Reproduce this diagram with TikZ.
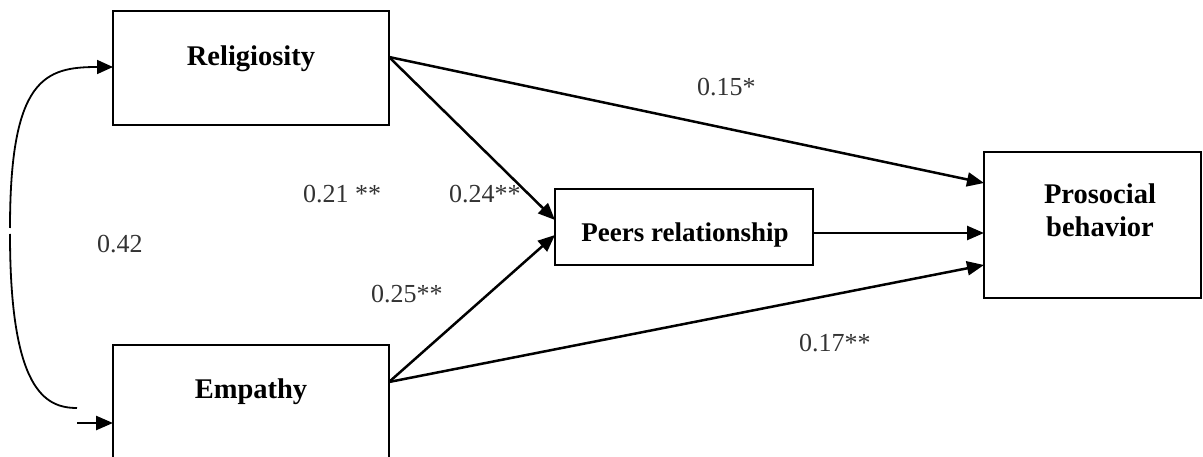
\documentclass[tikz,border=0pt]{standalone}
\usepackage{fontspec}
\setmainfont{Liberation Serif}
\usetikzlibrary{arrows.meta,calc}
\begin{document}
\begin{tikzpicture}[x=1pt,y=-1pt,
  box/.style={draw, line width=2pt, inner sep=0pt, outer sep=0pt},
  boxtext/.style={font=\fontsize{28.5}{33}\selectfont\bfseries, inner sep=0pt, anchor=base, align=center},
  num/.style={font=\fontsize{26}{28}\selectfont, text=black!80, inner sep=0pt, anchor=base west},
  arr/.style={line width=2.5pt, -{Triangle[length=17pt,width=14pt]}},
  curve/.style={line width=1.8pt}]
\useasboundingbox (0,0) rectangle (1203,457);
\clip (0,0) rectangle (1203,457);

% boxes
\node[box, minimum width=276pt, minimum height=114pt] (rel) at (251,68) {};
\node[box, minimum width=276pt, minimum height=125pt] (emp) at (251,407.5) {};
\node[box, minimum width=258pt, minimum height=76pt] (peer) at (684,227) {};
\node[box, minimum width=217pt, minimum height=146pt] (pro) at (1092.5,225) {};

% box texts
\node[boxtext] (reltext) at (251,66) {Religiosity};
\node[boxtext] (emptext) at (251,398) {Empathy};
\node[boxtext, font=\fontsize{27}{30}\selectfont\bfseries] (peertext) at (685,242) {Peers relationship};
\node[boxtext] (protext) at (1100,237) {Prosocial\\behavior};

% paths
\draw[arr] ($(rel.east)+(0,-11)$) -- ($(peer.west)+(0,-7)$);
\draw[arr] ($(rel.east)+(0,-11)$) -- ($(pro.west)+(0,-42)$);
\draw[arr] ($(emp.east)+(0,-25.5)$) -- ($(peer.west)+(0,8)$);
\draw[arr] ($(emp.east)+(0,-25.5)$) -- ($(pro.west)+(0,40)$);
\draw[arr] ($(peer.east)+(0,6)$) -- ($(pro.west)+(0,8)$);

% covariance curve
\coordinate (gtop) at (10,228);
\coordinate (gbot) at (10,234);
\coordinate (cend) at (77,408);
\coordinate (sstart) at (77,423);
\draw[curve, -{Triangle[length=16pt,width=14pt]}] (gtop) .. controls (10,78) and (45,67) .. ($(rel.west)+(0,-1)$);
\draw[curve] (gbot) .. controls (10,390) and (45,408) .. (cend);
\draw[arr] (sstart) -- ($(emp.west)+(0,15.5)$);

% coefficients
\node[num] (n42) at (97,253) {0.42};
\node[num] (n21) at (303,203) {0.21 **};
\node[num] (n24) at (449,203) {0.24**};
\node[num] (n25) at (371,303) {0.25**};
\node[num] (n17) at (799,351) {0.17**};
\node[num] (n15) at (697,96) {0.15*};
\end{tikzpicture}
\end{document}
